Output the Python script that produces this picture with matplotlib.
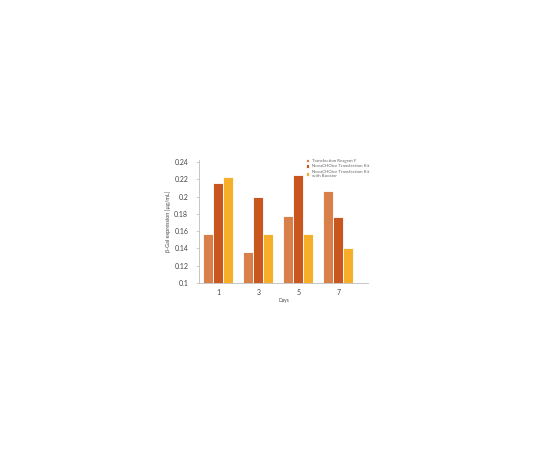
import numpy as np
import matplotlib
matplotlib.use("Agg")
import matplotlib.pyplot as plt

days = ["1", "3", "5", "7"]
reagent_f = [0.157, 0.136, 0.178, 0.206]
novachoice = [0.216, 0.199, 0.225, 0.176]
novachoice_booster = [0.223, 0.157, 0.157, 0.140]

series = [
    ("Transfection Reagent F", reagent_f, "#D9804A"),
    ("NovaCHOice Transfection Kit", novachoice, "#C8561E"),
    ("NovaCHOice Transfection Kit\nwith Booster", novachoice_booster, "#F7AF2A"),
]

plt.rcParams["font.family"] = ["Lato", "DejaVu Sans"]

fig = plt.figure(figsize=(5.4, 4.5), dpi=100)
ax = fig.add_axes([0.369, 0.371, 0.313, 0.273])

x = np.arange(len(days))
width = 0.25
for i, (name, vals, color) in enumerate(series):
    ax.bar(x + (i - 1) * width, np.array(vals) - 0.1, width, bottom=0.1,
           color=color, edgecolor="white", linewidth=0.6, label=name)

ax.set_xlim(-0.475, 3.75)
ax.set_ylim(0.1, 0.242)
ax.set_yticks([0.1, 0.12, 0.14, 0.16, 0.18, 0.2, 0.22, 0.24])
ax.set_yticklabels(["0.1", "0.12", "0.14", "0.16", "0.18", "0.2", "0.22", "0.24"])
ax.set_xticks(x)
ax.set_xticklabels(days)

for s in ["top", "right"]:
    ax.spines[s].set_visible(False)
for s in ["left", "bottom"]:
    ax.spines[s].set_color("#bbbbbb")
    ax.spines[s].set_linewidth(0.6)

ax.tick_params(axis="y", labelsize=5, colors="#444444", length=2, width=0.5,
               pad=6)
ax.tick_params(axis="x", labelsize=5, colors="#444444", length=0, pad=4)
ax.tick_params(axis="y", color="#bbbbbb")

ax.set_xlabel("Days", fontsize=3.5, color="#444444", labelpad=2)
ax.set_ylabel("β-Gal expression [µg/mL]", fontsize=4, color="#444444",
              labelpad=2)

ax.legend(loc="upper right", bbox_to_anchor=(1.03, 1.045), fontsize=3.2,
          frameon=False, handlelength=0.8, handleheight=0.8,
          handletextpad=0.6, labelspacing=0.3, labelcolor="#666666")

fig.savefig("out.png", dpi=100, facecolor="white")
